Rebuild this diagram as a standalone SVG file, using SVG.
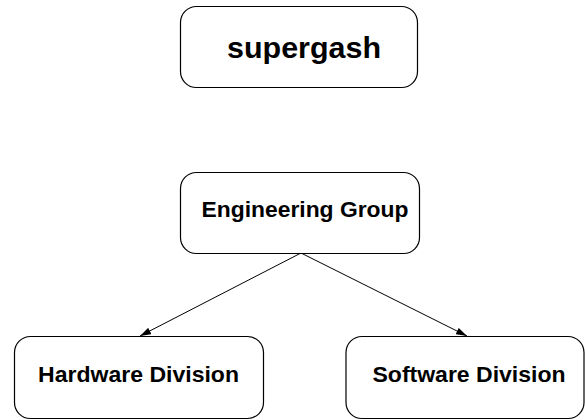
<svg xmlns="http://www.w3.org/2000/svg" width="585" height="420" viewBox="0 0 585 420">
  <style>
    .box { fill: #ffffff; stroke: #000000; stroke-width: 1.2; }
    .label { font-family: "Liberation Sans", Arial, sans-serif; font-weight: bold; fill: #000000; text-anchor: middle; }
    .edge { stroke: #000000; stroke-width: 1; fill: none; }
  </style>
  <defs>
    <marker id="arrow" viewBox="0 0 11 7" refX="11" refY="3.5" markerWidth="11" markerHeight="7" markerUnits="userSpaceOnUse" orient="auto">
      <path d="M0,0 L11,3.5 L0,7 Z" fill="#000000"/>
    </marker>
  </defs>
  <rect width="585" height="420" fill="#ffffff"/>

  <g id="connectors">
    <line class="edge" x1="301" y1="253" x2="140" y2="336" marker-end="url(#arrow)"/>
    <line class="edge" x1="301" y1="253" x2="467" y2="336" marker-end="url(#arrow)"/>
  </g>

  <g id="supergash">
    <rect class="box" x="180.5" y="6.5" width="237" height="81" rx="16"/>
    <text class="label" x="304" y="58" font-size="29" textLength="154" lengthAdjust="spacingAndGlyphs">supergash</text>
  </g>

  <g id="engineering-group">
    <rect class="box" x="180.5" y="172.5" width="239" height="81" rx="16"/>
    <text class="label" x="305" y="217" font-size="22" textLength="207" lengthAdjust="spacingAndGlyphs">Engineering Group</text>
  </g>

  <g id="hardware-division">
    <rect class="box" x="14.5" y="336.5" width="249" height="82" rx="16"/>
    <text class="label" x="138.5" y="382" font-size="22" textLength="201" lengthAdjust="spacingAndGlyphs">Hardware Division</text>
  </g>

  <g id="software-division">
    <rect class="box" x="346" y="336.5" width="238" height="82" rx="16"/>
    <text class="label" x="469" y="382" font-size="22" textLength="193" lengthAdjust="spacingAndGlyphs">Software Division</text>
  </g>
</svg>
